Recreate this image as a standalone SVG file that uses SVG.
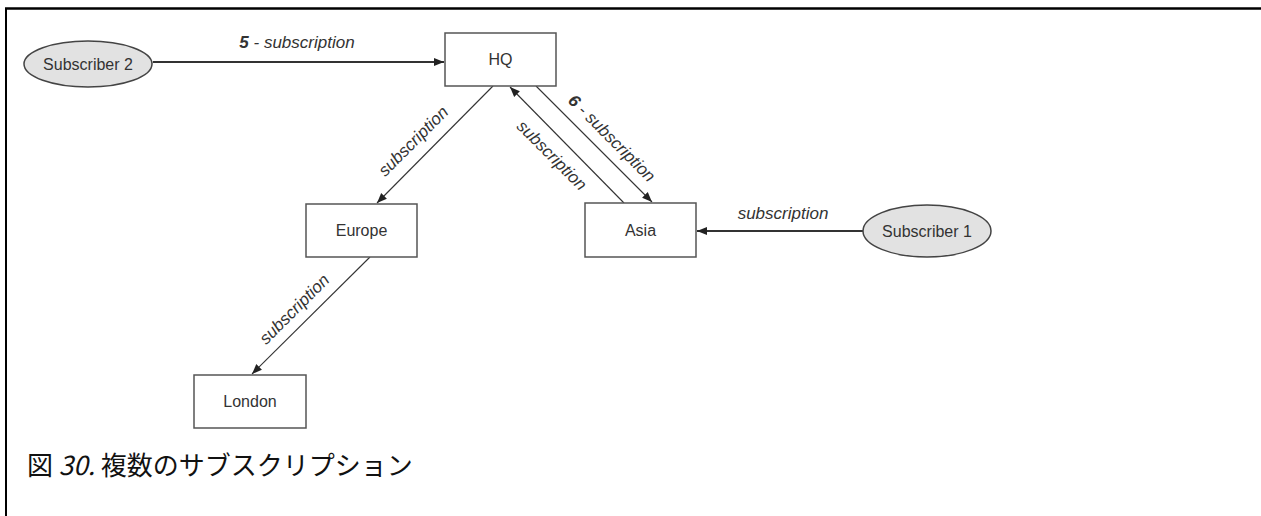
<svg xmlns="http://www.w3.org/2000/svg" width="1261" height="516" viewBox="0 0 1261 516">
<style>
.box{fill:#fff;stroke:#555;stroke-width:1.5}
.ell{fill:#e2e2e2;stroke:#444;stroke-width:1.5}
.nt{font-family:"Liberation Sans",Arial,sans-serif;font-size:16px;fill:#333;text-anchor:middle}
.lb{font-family:"Liberation Sans",Arial,sans-serif;font-size:17px;font-style:italic;fill:#333;text-anchor:middle}
.c{stroke:#333;fill:none}
.h{stroke-width:1.8}
.d{stroke-width:1.1}
.cap{font-family:"Noto Sans CJK JP","Noto Sans",sans-serif;font-size:26px;fill:#111}
</style>
<defs>
<marker id="ah" markerUnits="userSpaceOnUse" markerWidth="11" markerHeight="9" refX="10" refY="4.5" orient="auto">
<path d="M0,0.5 L10,4.5 L0,8.5 z" fill="#222"/>
</marker>
</defs>
<rect width="1261" height="516" fill="#fff"/>
<g id="frame">
<line x1="5" y1="8.5" x2="1261" y2="8.5" stroke="#000" stroke-width="2.5"/>
<line x1="6" y1="8" x2="6" y2="516" stroke="#000" stroke-width="2"/>
</g>
<g id="connectors">
<line class="c h" x1="153" y1="62" x2="444" y2="62" marker-end="url(#ah)"/>
<line class="c h" x1="863" y1="231" x2="697" y2="231" marker-end="url(#ah)"/>
<line class="c d" x1="493" y1="86" x2="377" y2="203" marker-end="url(#ah)"/>
<line class="c d" x1="370" y1="257" x2="252" y2="374" marker-end="url(#ah)"/>
<line class="c d" x1="624" y1="203" x2="510" y2="87" marker-end="url(#ah)"/>
<line class="c d" x1="536" y1="86" x2="652" y2="202" marker-end="url(#ah)"/>
<text class="lb" x="297" y="48"><tspan font-weight="bold">5</tspan> - subscription</text>
<text class="lb" x="783" y="219">subscription</text>
<text class="lb" transform="translate(413,141) rotate(-45)" y="6">subscription</text>
<text class="lb" transform="translate(294,309) rotate(-45)" y="6">subscription</text>
<text class="lb" transform="translate(552,155) rotate(45)" y="6">subscription</text>
<text class="lb" transform="translate(612,138) rotate(45)" y="6"><tspan font-weight="bold">6</tspan> - subscription</text>
</g>
<g id="sub2">
<ellipse class="ell" cx="88" cy="64" rx="64" ry="23"/>
<text class="nt" x="88" y="70">Subscriber 2</text>
</g>
<g id="hq">
<rect class="box" x="445" y="33" width="111" height="53"/>
<text class="nt" x="500.5" y="65">HQ</text>
</g>
<g id="europe">
<rect class="box" x="306" y="204" width="111" height="53"/>
<text class="nt" x="361.5" y="236">Europe</text>
</g>
<g id="london">
<rect class="box" x="194" y="375" width="112" height="53"/>
<text class="nt" x="250" y="407">London</text>
</g>
<g id="asia">
<rect class="box" x="585" y="203" width="111" height="54"/>
<text class="nt" x="640.5" y="236">Asia</text>
</g>
<g id="sub1">
<ellipse class="ell" cx="927" cy="231" rx="64" ry="26"/>
<text class="nt" x="927" y="237">Subscriber 1</text>
</g>
<g id="caption">
<text class="cap" x="27" y="475">図 <tspan font-style="italic">30.</tspan> 複数のサブスクリプション</text>
</g>
</svg>
